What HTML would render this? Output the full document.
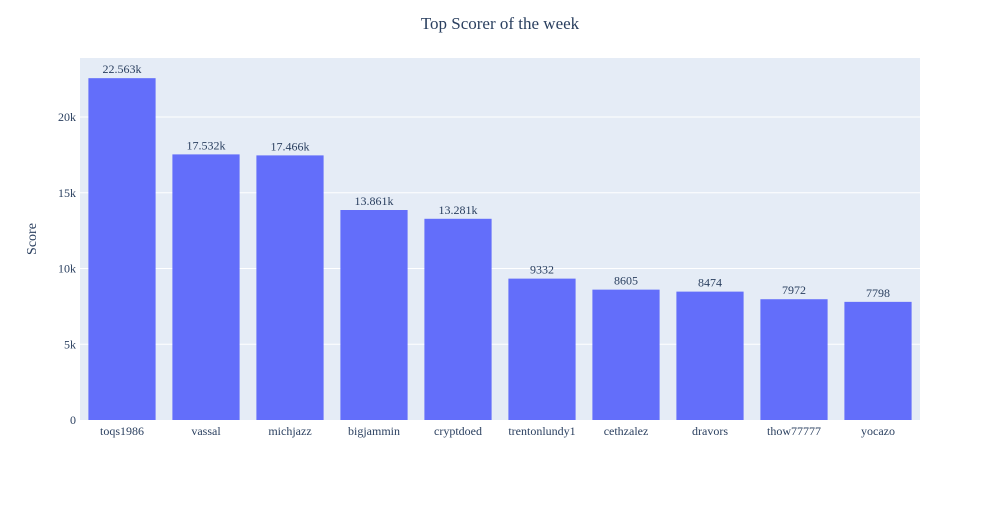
<!DOCTYPE html>
<html><head><meta charset="utf-8"><style>
body{margin:0;background:#fff;}
text{font-family:"Liberation Serif",serif;fill:#2a3f5f;}
</style></head><body>
<svg id="chart" width="1000" height="500">
<rect x="0" y="0" width="1000" height="500" fill="#fff"/>
<rect x="80" y="58" width="840" height="362" fill="#e5ecf6"/>
<g id="grid"></g><g id="bars"></g><g id="labels"></g>
<text x="500" y="29" text-anchor="middle" font-size="17">Top Scorer of the week</text>
<text x="36" y="239" text-anchor="middle" font-size="14" transform="rotate(-90 36 239)">Score</text>
</svg>
<script>
const categories=["toqs1986","vassal","michjazz","bigjammin","cryptdoed","trentonlundy1","cethzalez","dravors","thow77777","yocazo"];
const values=[22563,17532,17466,13861,13281,9332,8605,8474,7972,7798];
const valueLabels=["22.563k","17.532k","17.466k","13.861k","13.281k","9332","8605","8474","7972","7798"];
const yTicks=[0,5000,10000,15000,20000];
const yTickLabels=["0","5k","10k","15k","20k"];
const ns="http://www.w3.org/2000/svg";
const x0=80,plotW=840,yBase=420,pxPerUnit=(420-117)/20000;
const yS=v=>yBase-v*pxPerUnit;
const band=plotW/categories.length;
const xS=i=>x0+band*i;
function mk(t,a,p){const e=document.createElementNS(ns,t);for(const k in a)e.setAttribute(k,a[k]);p.appendChild(e);return e;}
const grid=document.getElementById('grid'),bars=document.getElementById('bars'),labels=document.getElementById('labels');
yTicks.forEach((v,i)=>{
 if(v>0){const l=mk('line',{x1:80,x2:920,y1:yS(v),y2:yS(v),stroke:'#fff','stroke-width':1},grid);
 
 }
 const t=mk('text',{x:76,y:yS(v)+4,'text-anchor':'end','font-size':12},labels);t.textContent=yTickLabels[i];
 
 
});
categories.forEach((c,i)=>{
 const bw=band*0.8,bx=xS(i)+band*0.1;
 const r=mk('rect',{x:bx,y:yS(values[i]),width:bw,height:yBase-yS(values[i]),fill:'#636efa'},bars);
 
 
 const vl=mk('text',{x:bx+bw/2,y:yS(values[i])-5,'text-anchor':'middle','font-size':12},labels);vl.textContent=valueLabels[i];
 
 
 const xl=mk('text',{x:bx+bw/2,y:435,'text-anchor':'middle','font-size':12},labels);xl.textContent=c;
 
 
});
</script>
</body></html>
